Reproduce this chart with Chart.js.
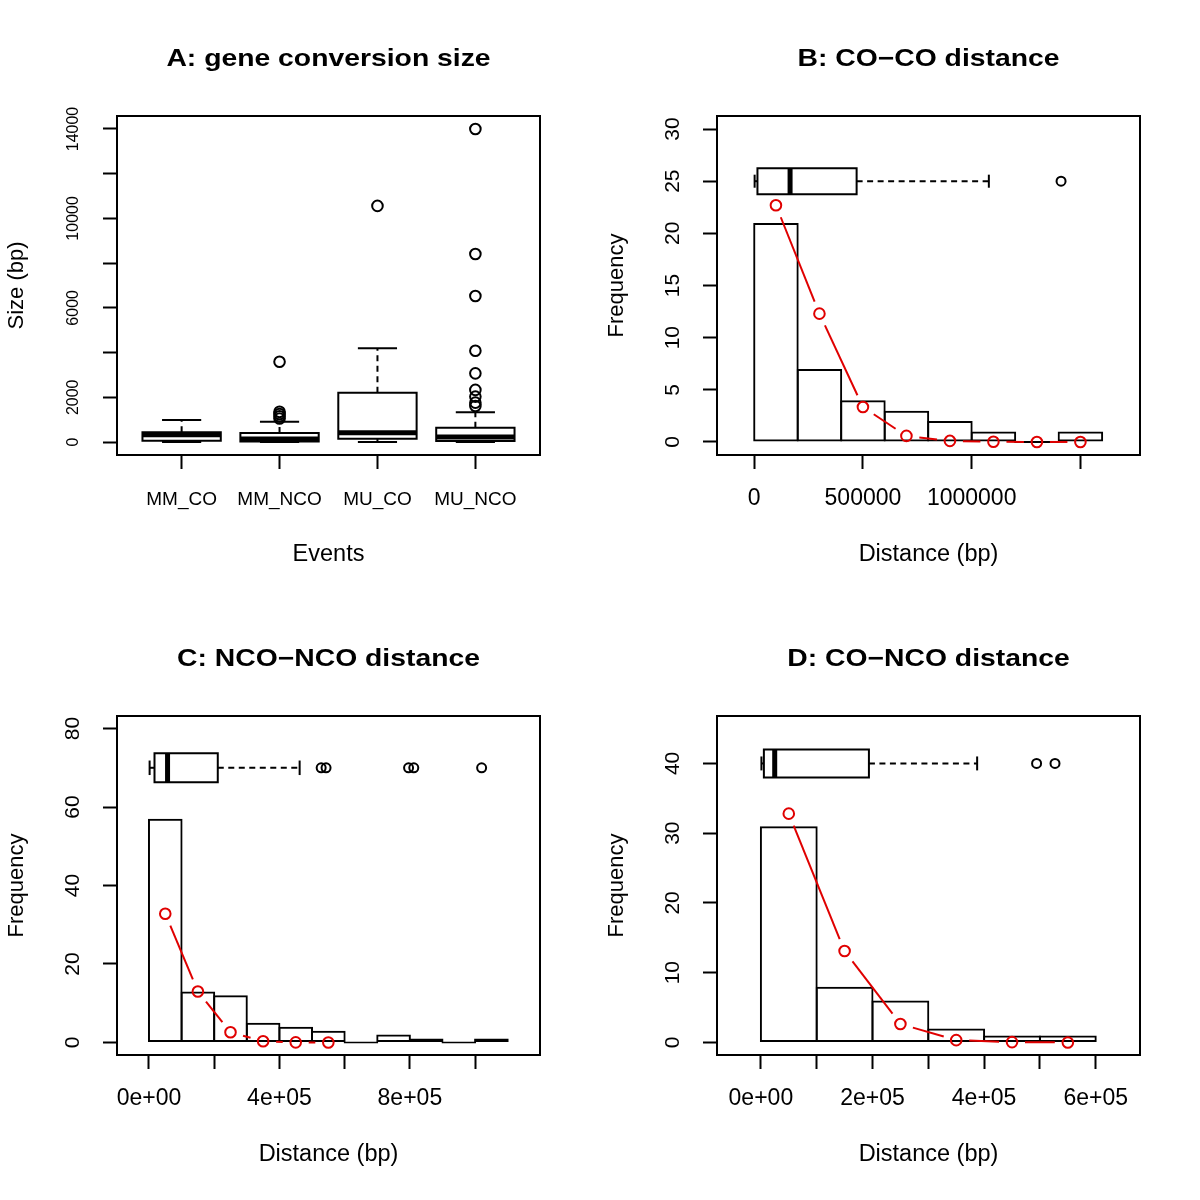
<!DOCTYPE html>
<html>
<head>
<meta charset="utf-8">
<script src="https://cdn.jsdelivr.net/npm/chart.js@4.4.1/dist/chart.umd.min.js"></script>
<style>
  body { margin: 0; background: #fff; }
  #grid { position: relative; width: 1200px; height: 1200px; }
  .panel { position: absolute; width: 600px; height: 600px; }
</style>
</head>
<body>
<div id="grid">
  <div class="panel" style="left:0;top:0"><canvas id="chartA" width="600" height="600"></canvas></div>
  <div class="panel" style="left:600px;top:0"><canvas id="chartB" width="600" height="600"></canvas></div>
  <div class="panel" style="left:0;top:600px"><canvas id="chartC" width="600" height="600"></canvas></div>
  <div class="panel" style="left:600px;top:600px"><canvas id="chartD" width="600" height="600"></canvas></div>
</div>
<script>
// ---- A: gene conversion size (boxplots) ----
const aCategories = ['MM_CO', 'MM_NCO', 'MU_CO', 'MU_NCO'];
const aLow = [0, 0, 0, 0];
const aQ1 = [60, 20, 148, 45];
const aMedian = [320, 130, 416, 220];
const aQ3 = [440, 400, 2205, 640];
const aHigh = [984, 908, 4190, 1328];
const aOutlierGroup = [2, 2, 2, 2, 2, 3, 4, 4, 4, 4, 4, 4, 4, 4, 4];
const aOutlierSize = [1050, 1150, 1250, 1350, 3590, 10560, 1610, 1760, 2030, 2330, 3070, 4080, 6530, 8410, 14000];
const aYTicks = [0, 2000, 4000, 6000, 8000, 10000, 12000, 14000];
const aYTickLabels = ['0', '2000', '', '6000', '', '10000', '', '14000'];

// ---- B: CO-CO distance ----
const bBinMids = [100000, 300000, 500000, 700000, 900000, 1100000, 1300000, 1500000];
const bCounts = [21, 7, 4, 3, 2, 1, 0, 1];
const bExpected = [22.7, 12.3, 3.35, 0.58, 0.1, 0.02, 0, 0];
const bBox = [2000, 15000, 165000, 471000, 1079000];   // low, q1, median, q3, high
const bOutliers = [1411000];
const bXTicks = [0, 500000, 1000000, 1500000];
const bXTickLabels = ['0', '500000', '1000000', ''];
const bYTicks = [0, 5, 10, 15, 20, 25, 30];

// ---- C: NCO-NCO distance ----
const cBinMids = [50000, 150000, 250000, 350000, 450000, 550000, 650000, 750000, 850000, 950000, 1050000];
const cCounts = [57, 13, 12, 5, 4, 3, 0, 2, 1, 0, 1];
const cExpected = [32.8, 13.0, 2.6, 0.3, 0.02, 0];
const cBox = [2000, 17000, 57000, 211000, 462000];
const cOutliers = [528000, 543000, 796000, 812000, 1020000];
const cXTicks = [0, 200000, 400000, 600000, 800000, 1000000];
const cXTickLabels = ['0e+00', '', '4e+05', '', '8e+05', ''];
const cYTicks = [0, 20, 40, 60, 80];

// ---- D: CO-NCO distance ----
const dBinMids = [50000, 150000, 250000, 350000, 450000, 550000];
const dCounts = [31, 8, 6, 2, 1, 1];
const dExpected = [32.8, 13.1, 2.64, 0.33, 0.05, 0];
const dBox = [1000, 5400, 24800, 193600, 387500];
const dOutliers = [494000, 527000];
const dXTicks = [0, 100000, 200000, 300000, 400000, 500000, 600000];
const dXTickLabels = ['0e+00', '', '2e+05', '', '4e+05', '', '6e+05'];
const dYTicks = [0, 10, 20, 30, 40];

const FONT = "'Liberation Sans', Arial, Helvetica, sans-serif";
const RED = '#e00000';
const PLOT_W = 423;
const GAP = 13;

Chart.defaults.font.family = FONT;
Chart.defaults.color = '#000';
Chart.defaults.animation = false;

// box around the plot region, like R's box()
const framePlugin = {
  id: 'frame',
  afterDraw(chart) {
    const { ctx, chartArea: a } = chart;
    ctx.save();
    ctx.strokeStyle = '#000';
    ctx.lineWidth = 2;
    ctx.strokeRect(a.left, a.top, a.right - a.left, a.bottom - a.top);
    ctx.restore();
  }
};

// main title centred over the plot region (R style), a bit wide like the original
function titlePlugin(text) {
  return {
    id: 'rtitle',
    afterDraw(chart) {
      const { ctx, chartArea: a } = chart;
      ctx.save();
      ctx.font = 'bold 24px ' + FONT;
      ctx.fillStyle = '#000';
      ctx.textAlign = 'center';
      ctx.textBaseline = 'middle';
      ctx.translate((a.left + a.right) / 2, a.top - 57);
      ctx.scale(1.18, 1);
      ctx.fillText(text, 0, 0);
      ctx.restore();
    }
  };
}

// R type="b": line segments that stop short of the points
const gapLinePlugin = {
  id: 'gapLine',
  afterDatasetsDraw(chart) {
    const ctx = chart.ctx;
    chart.data.datasets.forEach((ds, i) => {
      if (!ds.gapLine) return;
      const pts = chart.getDatasetMeta(i).data;
      ctx.save();
      ctx.strokeStyle = ds.pointBorderColor;
      ctx.lineWidth = 2;
      for (let k = 1; k < pts.length; k++) {
        const p0 = pts[k - 1], p1 = pts[k];
        const dx = p1.x - p0.x, dy = p1.y - p0.y;
        const len = Math.hypot(dx, dy);
        if (len <= 2 * GAP) continue;
        const ux = dx / len, uy = dy / len;
        ctx.beginPath();
        ctx.moveTo(p0.x + ux * GAP, p0.y + uy * GAP);
        ctx.lineTo(p1.x - ux * GAP, p1.y - uy * GAP);
        ctx.stroke();
      }
      ctx.restore();
    });
  }
};

function boxPlugin(boxes, horizontal) {
  return {
    id: 'boxes',
    afterDatasetsDraw(chart) {
      const ctx = chart.ctx;
      const posScale = horizontal ? chart.scales.y : chart.scales.x;
      const valScale = horizontal ? chart.scales.x : chart.scales.y;
      const seg = (v0, w0, v1, w1) => {
        ctx.beginPath();
        if (horizontal) { ctx.moveTo(v0, w0); ctx.lineTo(v1, w1); }
        else { ctx.moveTo(w0, v0); ctx.lineTo(w1, v1); }
        ctx.stroke();
      };
      ctx.save();
      ctx.strokeStyle = '#000';
      boxes.forEach(b => {
        const c = posScale.getPixelForValue(b.at);
        const hw = Math.abs(posScale.getPixelForValue(b.at + b.half) - c);
        const p = v => valScale.getPixelForValue(v);
        ctx.lineWidth = 2;
        ctx.setLineDash([6, 4.5]);
        seg(p(b.q3), c, p(b.high), c);
        seg(p(b.q1), c, p(b.low), c);
        ctx.setLineDash([]);
        seg(p(b.high), c - hw / 2, p(b.high), c + hw / 2);
        seg(p(b.low), c - hw / 2, p(b.low), c + hw / 2);
        const v0 = p(b.q1), v1 = p(b.q3);
        ctx.beginPath();
        if (horizontal) ctx.rect(v0, c - hw, v1 - v0, 2 * hw);
        else ctx.rect(c - hw, v1, 2 * hw, v0 - v1);
        ctx.fillStyle = '#fff';
        ctx.fill();
        ctx.stroke();
        ctx.lineWidth = 5;
        seg(p(b.median), c - hw, p(b.median), c + hw);
      });
      ctx.restore();
    }
  };
}

function axisX(o) {
  return {
    type: 'linear', min: o.min, max: o.max, offset: false,
    afterBuildTicks: s => { s.ticks = o.ticks.map(v => ({ value: v })); },
    afterFit: s => { s.height = 145; },
    grid: { drawOnChartArea: false, drawTicks: true, tickLength: 14, tickWidth: 2, tickColor: '#000', offset: false },
    border: { display: false },
    ticks: { autoSkip: false, maxRotation: 0, minRotation: 0, padding: o.pad, font: { size: o.size },
             callback: (v, i) => o.labels[i] },
    title: { display: true, text: o.title, font: { size: 23.5 }, padding: { top: 0, bottom: 31 } }
  };
}

function axisY(o) {
  return {
    type: 'linear', min: o.min, max: o.max,
    afterBuildTicks: s => { s.ticks = o.ticks.map(v => ({ value: v })); },
    afterFit: s => { s.width = 117; },
    grid: { drawOnChartArea: false, drawTicks: true, tickLength: 14, tickWidth: 2, tickColor: '#000' },
    border: { display: false },
    ticks: { autoSkip: false, minRotation: 90, maxRotation: 90, crossAlign: 'center', padding: o.pad,
             font: { size: o.size }, callback: (v, i) => o.labels[i] },
    title: { display: true, text: o.title, font: { size: 22 }, padding: { top: 4, bottom: 0 } }
  };
}

function commonOptions(scales) {
  return {
    responsive: false,
    animation: false,
    layout: { padding: { left: 0, right: 60, top: 116, bottom: 0 }, autoPadding: false },
    plugins: {
      legend: { display: false },
      tooltip: { enabled: false },
      title: { display: false }
    },
    scales: scales
  };
}

function pointsDataset(xs, ys, color, radius, extra) {
  return Object.assign({
    type: 'line',
    showLine: false,
    data: xs.map((x, i) => ({ x: x, y: ys[i] })),
    pointRadius: radius,
    pointHoverRadius: radius,
    pointBorderWidth: 2,
    pointBorderColor: color,
    pointBackgroundColor: 'rgba(0,0,0,0)'
  }, extra || {});
}

// ---- panel A ----
const aBoxes = aCategories.map((_, i) => ({
  at: i + 1, half: 0.4, low: aLow[i], q1: aQ1[i], median: aMedian[i], q3: aQ3[i], high: aHigh[i]
}));

new Chart(document.getElementById('chartA'), {
  type: 'scatter',
  data: { datasets: [pointsDataset(aOutlierGroup, aOutlierSize, '#000', 5.3)] },
  options: commonOptions({
    x: axisX({ min: 0.34, max: 4.66, ticks: [1, 2, 3, 4], labels: aCategories, size: 19, pad: 19, title: 'Events' }),
    y: axisY({ min: -581, max: 14581, ticks: aYTicks, labels: aYTickLabels, size: 16, pad: 7, title: 'Size (bp)' })
  }),
  plugins: [boxPlugin(aBoxes, false), framePlugin, titlePlugin('A: gene conversion size')]
});

// ---- histogram panels ----
function histChart(id, o) {
  const binWidth = o.mids[1] - o.mids[0];
  const binPx = binWidth / (o.xMax - o.xMin) * PLOT_W;
  const box = { at: o.boxAt, half: o.boxHalf, low: o.box[0], q1: o.box[1], median: o.box[2], q3: o.box[3], high: o.box[4] };
  new Chart(document.getElementById(id), {
    type: 'bar',
    data: {
      datasets: [
        {
          type: 'bar',
          data: o.mids.map((x, i) => ({ x: x, y: o.counts[i] })),
          backgroundColor: 'rgba(0,0,0,0)',
          borderColor: '#000',
          borderWidth: 2,
          borderSkipped: false,
          minBarLength: 2,
          categoryPercentage: 1,
          barPercentage: 1 + 2 / binPx,
          order: 3
        },
        pointsDataset(o.mids.slice(0, o.expected.length), o.expected, RED, 5.3, { gapLine: true, order: 2 }),
        pointsDataset(o.outliers, o.outliers.map(() => o.boxAt), '#000', 4.5, { order: 1 })
      ]
    },
    options: commonOptions({
      x: axisX({ min: o.xMin, max: o.xMax, ticks: o.xTicks, labels: o.xLabels, size: 23, pad: 16, title: 'Distance (bp)' }),
      y: axisY({ min: o.yMin, max: o.yMax, ticks: o.yTicks, labels: o.yTicks.map(String), size: 21, pad: 18, title: 'Frequency' })
    }),
    plugins: [gapLinePlugin, boxPlugin([box], true), framePlugin, titlePlugin(o.title)]
  });
}

histChart('chartB', {
  title: 'B: CO\u2212CO distance', mids: bBinMids, counts: bCounts, expected: bExpected,
  box: bBox, outliers: bOutliers, boxAt: 25, boxHalf: 1.25,
  xMin: -171000, xMax: 1774000, xTicks: bXTicks, xLabels: bXTickLabels,
  yMin: -1.25, yMax: 31.25, yTicks: bYTicks
});

histChart('chartC', {
  title: 'C: NCO\u2212NCO distance', mids: cBinMids, counts: cCounts, expected: cExpected,
  box: cBox, outliers: cOutliers, boxAt: 70, boxHalf: 3.7,
  xMin: -98000, xMax: 1199000, xTicks: cXTicks, xLabels: cXTickLabels,
  yMin: -3.2, yMax: 83.2, yTicks: cYTicks
});

histChart('chartD', {
  title: 'D: CO\u2212NCO distance', mids: dBinMids, counts: dCounts, expected: dExpected,
  box: dBox, outliers: dOutliers, boxAt: 40, boxHalf: 2,
  xMin: -78600, xMax: 679300, xTicks: dXTicks, xLabels: dXTickLabels,
  yMin: -1.8, yMax: 46.8, yTicks: dYTicks
});
</script>
</body>
</html>
